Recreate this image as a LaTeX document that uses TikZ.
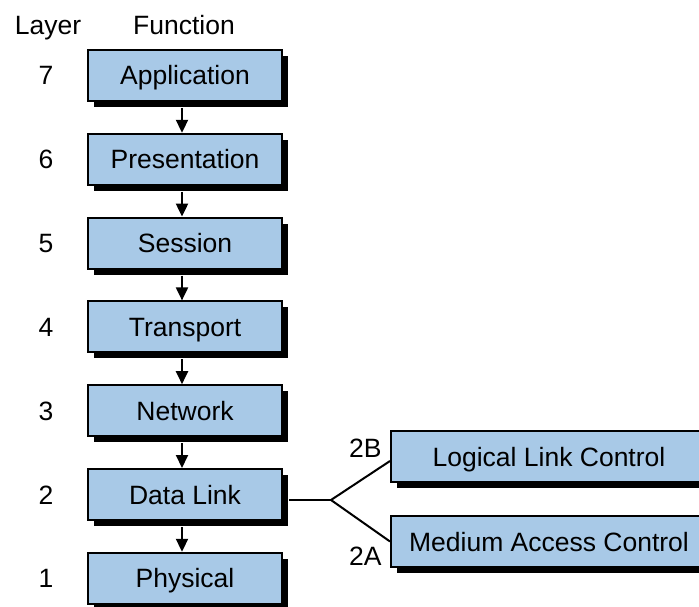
\documentclass[tikz,border=0pt]{standalone}
\usepackage{fontspec}
\setmainfont{Liberation Sans}
\usetikzlibrary{shadows,arrows.meta,calc}
\definecolor{boxblue}{RGB}{168,201,231}
\tikzset{
  txt/.style={font=\fontsize{26.5}{30}\selectfont, text height=19pt, text depth=0pt},
  layerbox/.style={rectangle, draw=black, line width=2pt, fill=boxblue,
    minimum width=194pt, minimum height=51pt, inner sep=0pt,
    general shadow={fill=black, shadow xshift=6pt, shadow yshift=-6pt}},
  subbox/.style={layerbox, minimum width=316pt},
  flow/.style={line width=2pt, -{Triangle[width=12pt,length=13pt]}},
  link/.style={line width=2pt}
}
\begin{document}
\begin{tikzpicture}[x=1pt,y=-1pt,every node/.style={txt}]
\useasboundingbox (0,0) rectangle (699,607);
\node (hl) at (48,25) {Layer};
\node (hf) at (184,25) {Function};
\foreach \n/\t/\y in {7/Application/75.5,6/Presentation/159.3,5/Session/243.1,4/Transport/326.9,3/Network/410.7,2/Data Link/494.5,1/Physical/578.3}{
  \node[layerbox] (b\n) at (185,\y) {\t};
  \node (l\n) at (46,\y) {\n};
}
\foreach \a/\b in {7/6,6/5,5/4,4/3,3/2,2/1}{
  \draw[flow] ($(b\a.south)+(-3,6)$) -- ($(b\b.north)+(-3,0)$);
}
\node[subbox] (llc) at (549,456.5) {Logical Link Control};
\node[subbox] (mac) at (549,541.5) {Medium Access Control};
\coordinate (br) at (331,500);
\draw[link] ($(b2.east)+(6,5.5)$) -- (br);
\draw[link] (br) -- ($(llc.west)+(0,4.5)$);
\draw[link] (br) -- (mac.west);
\node[anchor=east] (l2b) at (385,448) {2B};
\node[anchor=east] (l2a) at (385,556) {2A};
\end{tikzpicture}
\end{document}
